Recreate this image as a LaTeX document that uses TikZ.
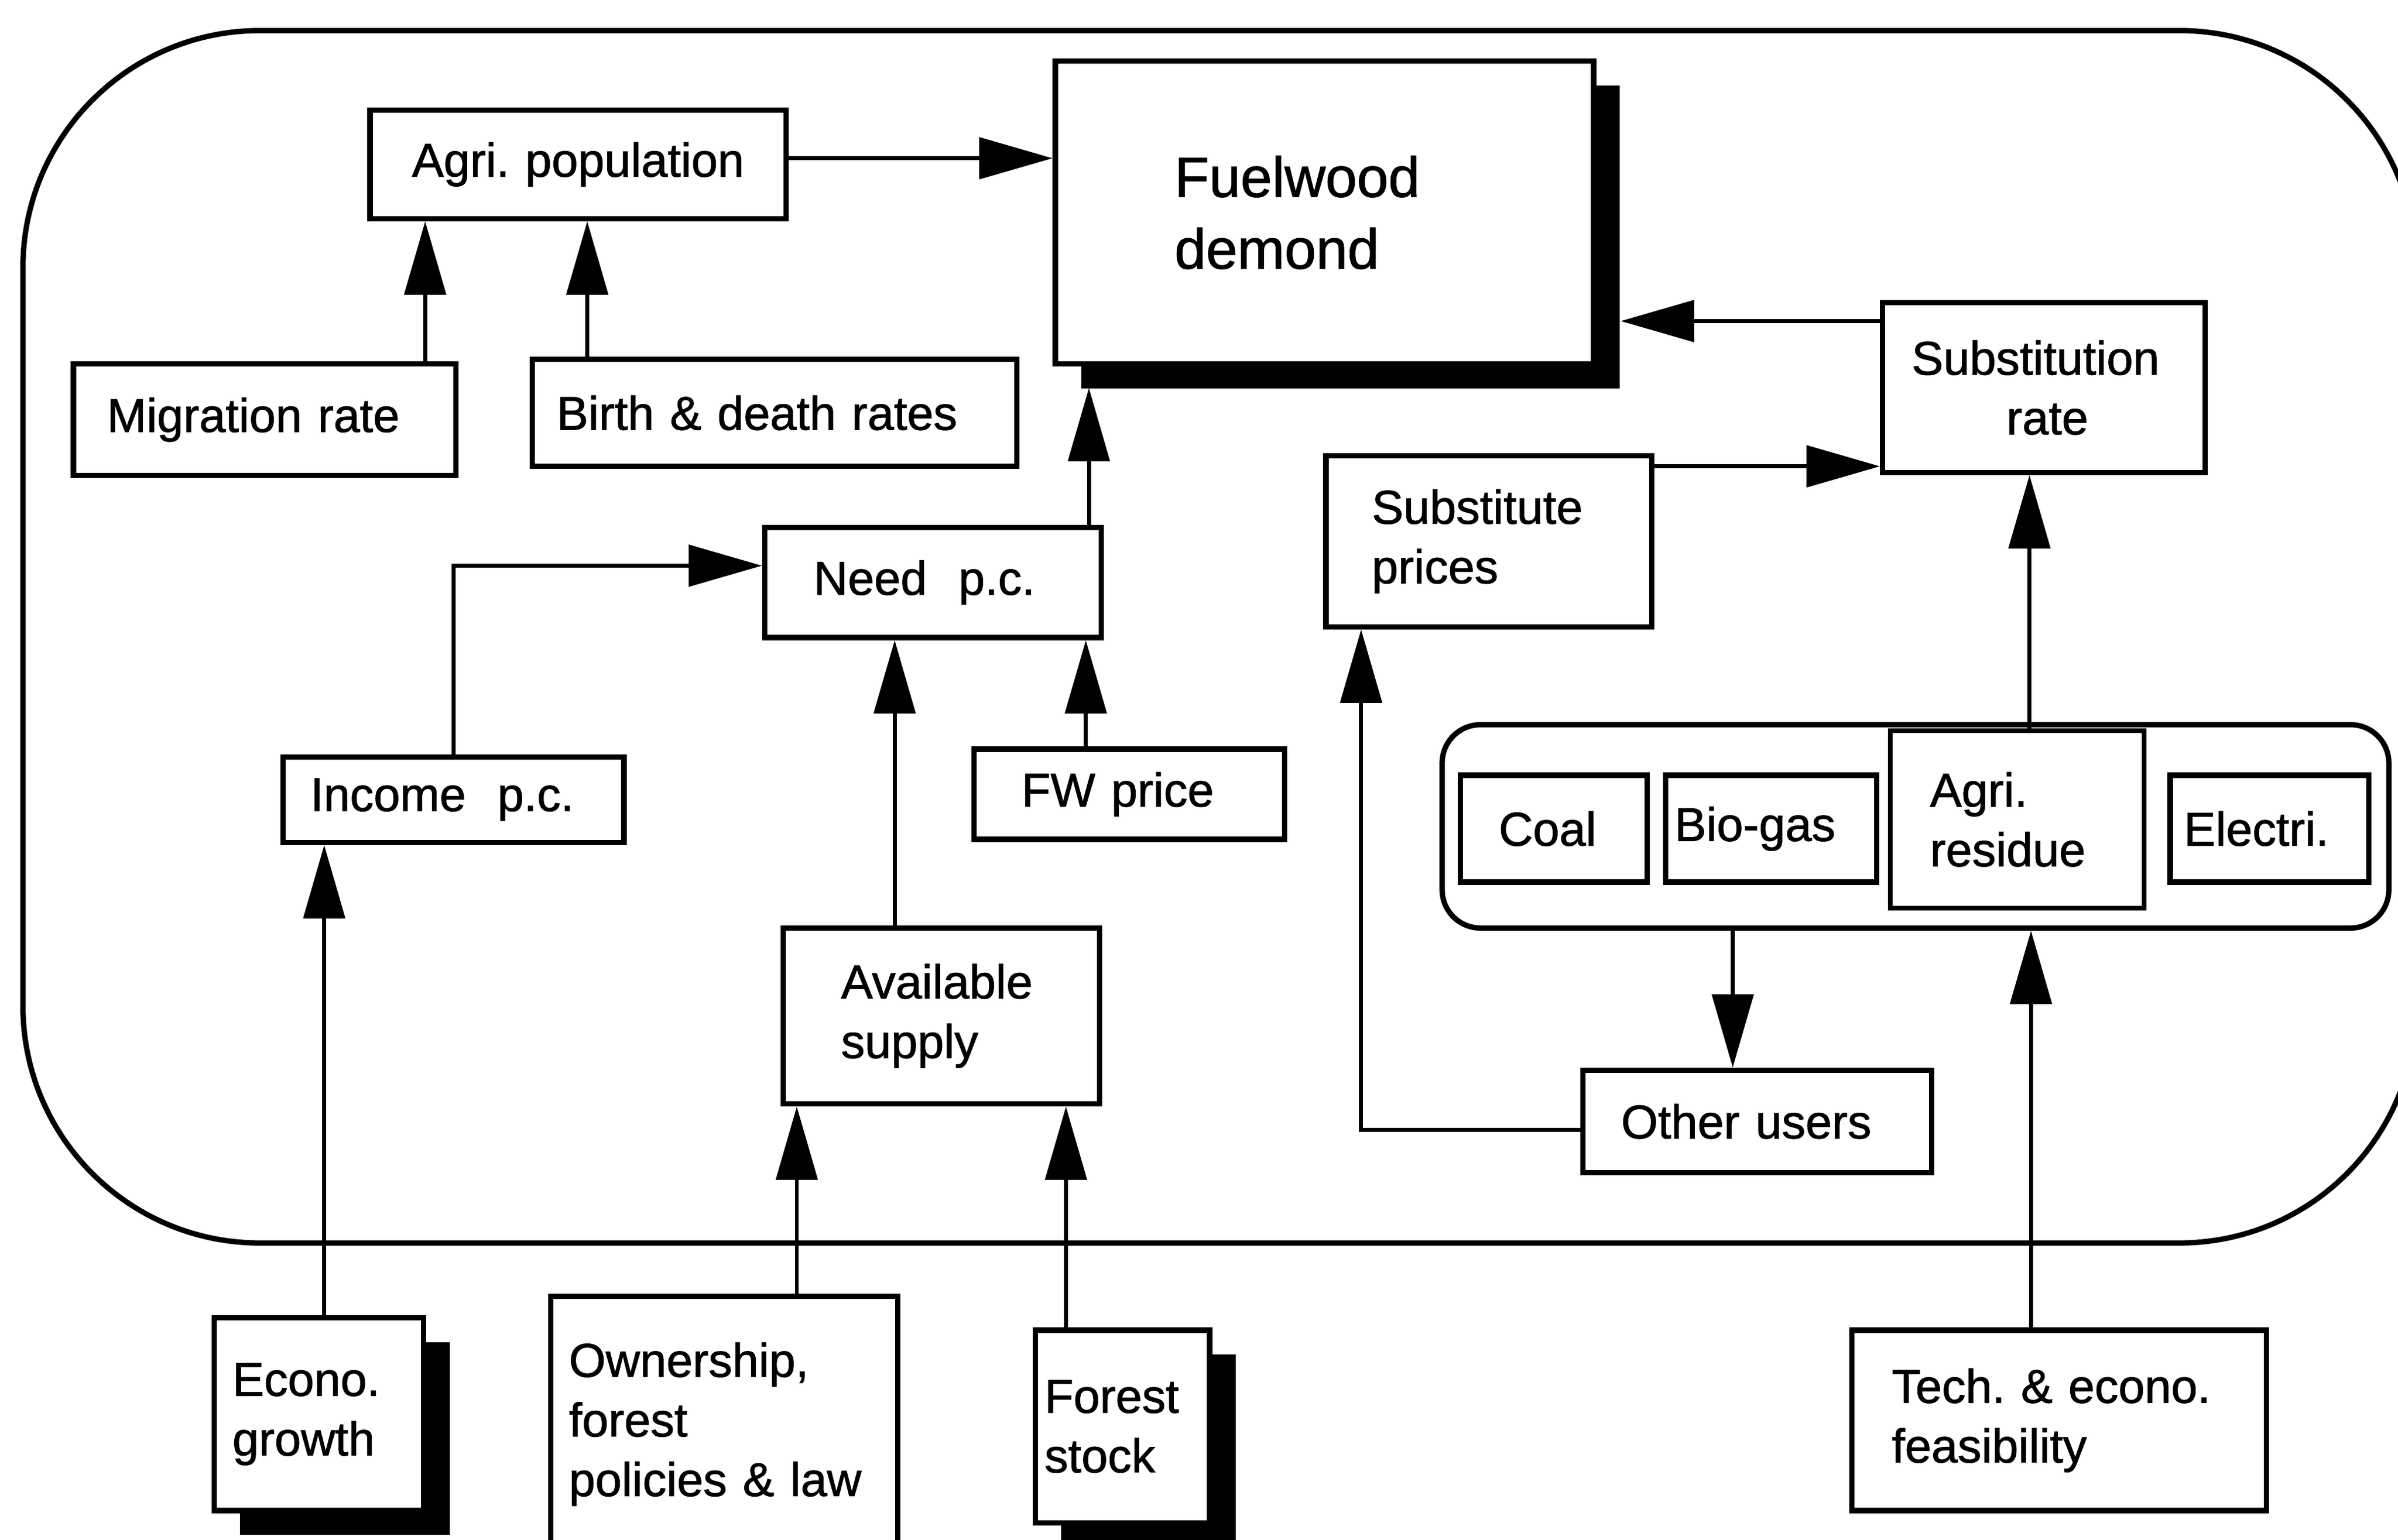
\documentclass[tikz,border=0pt]{standalone}
\usepackage{fontspec}
\setmainfont{Liberation Sans}[FakeBold=1.2]
\newfontfamily\labfont{Liberation Sans}[FakeBold=1.2]
\usetikzlibrary{arrows.meta,shadows}
\newcommand\lab{\labfont\fontsize{31}{39}\selectfont}
\newcommand\bigfw{\labfont\fontsize{37}{47}\selectfont}
\frenchspacing
\begin{document}
\begin{tikzpicture}[x=1pt,y=-1pt,
  box/.style={draw, line width=3.5pt, fill=white, inner ysep=0pt, align=left, font=\lab},
  shad/.style={drop shadow={shadow xshift=17pt, shadow yshift=-16pt, fill=black, opacity=1}},
  arr/.style={line width=2.6pt, -{Triangle[length=48pt,width=27pt]}}]
\path[use as bounding box] (0,0) rectangle (1568,1007);
\fill[white] (0,0) rectangle (1568,1007);
\clip (0,0) rectangle (1568,1007);

% outer frame
\draw[line width=3.5pt, rounded corners=155pt] (15,20) rectangle (1580,813);

% group of substitutes
\node[draw, line width=3.5pt, rounded corners=25pt, minimum width=619pt, minimum height=133pt] (grp) at (1252.5,540.5) {};

% nodes
\node[box, align=center, minimum width=272pt, minimum height=71pt, text width=252pt, inner xsep=10pt] (agri) at (378,107.5) {Agri. population};
\node[box, shad, font=\bigfw, minimum width=352pt, minimum height=198pt, text width=196pt, inner xsep=78pt] (fuel) at (866,139) {Fuelwood\\demond};
\node[box, minimum width=250pt, minimum height=73pt, text width=206pt, inner xsep=22pt] (mig) at (173,274.5) {Migration rate};
\node[box, minimum width=317pt, minimum height=70pt, text width=285pt, inner xsep=16pt] (birth) at (506.5,270) {Birth \& death rates};
\node[box, minimum width=220pt, minimum height=72pt, text width=156pt, inner xsep=32pt] (need) at (610,381) {Need\ \ p.c.};
\node[box, minimum width=223pt, minimum height=56pt, text width=187pt, inner xsep=18pt] (inc) at (296.5,523) {Income\ \ p.c.};
\node[box, minimum width=203pt, minimum height=59pt, text width=141pt, inner xsep=31pt] (fw) at (738.5,519.5) {FW price};
\node[box, minimum width=207pt, minimum height=115pt, text width=131pt, inner xsep=38pt] (avail) at (615.5,664.5) {Available\\supply};
\node[box, minimum width=213pt, minimum height=112pt, text width=153pt, inner xsep=30pt] (sp) at (973.5,354) {Substitute\\prices};
\node[box, minimum width=211pt, minimum height=111pt, text width=173pt, inner xsep=19pt] (subr) at (1336.5,253.5) {Substitution\\\hspace*{62pt}rate};
\node[box, minimum width=122pt, minimum height=70pt, text width=72pt, inner xsep=25pt] (coal) at (1016,542) {Coal};
\node[box, minimum width=138pt, minimum height=70pt, text width=126pt, inner xsep=6pt] (bio) at (1158,542) {Bio-gas};
\node[box, line width=3pt, minimum width=166pt, minimum height=116pt, text width=114pt, inner xsep=26pt] (res) at (1319,536) {Agri.\\residue};
\node[box, minimum width=130pt, minimum height=70pt, text width=112pt, inner xsep=9pt] (ele) at (1484,542) {Electri.};
\node[box, minimum width=228pt, minimum height=67pt, text width=178pt, inner xsep=25pt] (other) at (1149,733.5) {Other users};
\node[box, shad, minimum width=137pt, minimum height=126pt, text width=113pt, inner xsep=12pt] (econ) at (208.5,925) {Econo.\\growth};
\node[box, minimum width=227pt, minimum height=167pt, text width=203pt, inner xsep=12pt] (own) at (473.5,931.5) {Ownership,\\forest\\policies \& law};
\node[box, shad, minimum width=114pt, minimum height=126pt, text width=102pt, inner xsep=6pt] (forest) at (734,933) {Forest\\stock};
\node[box, minimum width=271pt, minimum height=118pt, text width=219pt, inner xsep=26pt] (tech) at (1346.5,929) {Tech. \& econo.\\feasibility};

% shadow edges of the fuelwood box
\coordinate (fuelsh) at ([xshift=16pt]fuel.east);
\coordinate (fuelshs) at ([yshift=-14pt]fuel.south);

% connectors
\draw[arr] ([yshift=4pt]agri.east) -- ([yshift=4pt]agri.east -| fuel.west);
\draw[arr] ([xshift=105pt]mig.north) -- ([xshift=105pt]mig.north |- agri.south);
\draw[arr] ([xshift=-122.5pt]birth.north) -- ([xshift=-122.5pt]birth.north |- agri.south);
\draw[arr] ([xshift=102pt]need.north) -- ([xshift=102pt]need.north |- fuelshs);
\draw[arr] ([yshift=43.5pt]subr.west) -- ([yshift=43.5pt]subr.west -| fuelsh);
\draw[arr] ([yshift=49pt]sp.east) -- ([yshift=49pt]sp.east -| subr.west);
\draw[arr] (inc.north) |- ([yshift=11pt]need.west);
\draw[arr] ([xshift=-30.5pt]avail.north) -- ([xshift=-30.5pt]avail.north |- need.south);
\draw[arr] ([xshift=-28.5pt]fw.north) -- ([xshift=-28.5pt]fw.north |- need.south);
\draw[arr] ([xshift=8pt]res.north) -- ([xshift=8pt]res.north |- subr.south);
\draw[arr] ([xshift=-119.5pt]grp.south) -- ([xshift=-119.5pt]grp.south |- other.north);
\draw[arr] ([yshift=-5.5pt]other.west) -| ([xshift=-83.5pt]sp.south);
\draw[arr] ([xshift=3.5pt]econ.north) -- ([xshift=3.5pt]econ.north |- inc.south);
\draw[arr] ([xshift=47.5pt]own.north) -- ([xshift=47.5pt]own.north |- avail.south);
\draw[arr] ([xshift=-37pt]forest.north) -- ([xshift=-37pt]forest.north |- avail.south);
\draw[arr] ([xshift=-18.5pt]tech.north) -- ([xshift=-18.5pt]tech.north |- grp.south);
\end{tikzpicture}
\end{document}
